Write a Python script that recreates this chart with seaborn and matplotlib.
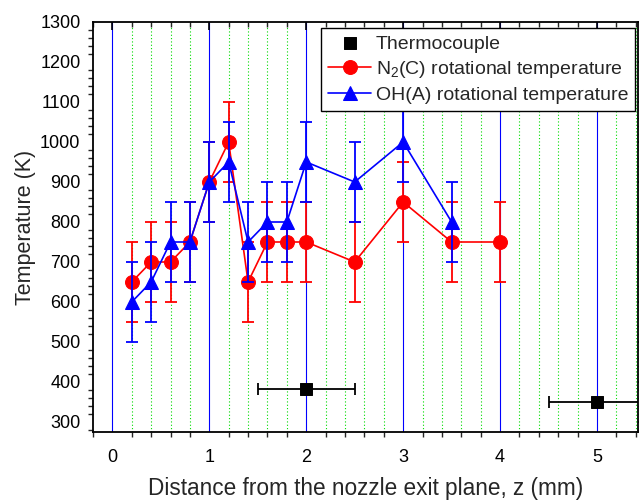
import numpy as np
import pandas as pd
import matplotlib
matplotlib.use("Agg")
import matplotlib.pyplot as plt
import seaborn as sns
from matplotlib.ticker import MultipleLocator

# Data
tc_z = [2.0, 5.0]
tc_T = [383, 350]
tc_zerr = [0.5, 0.5]

n2_z = [0.2, 0.4, 0.6, 0.8, 1.0, 1.2, 1.4, 1.6, 1.8, 2.0, 2.5, 3.0, 3.5, 4.0]
n2_T = [650, 700, 700, 750, 900, 1000, 650, 750, 750, 750, 700, 850, 750, 750]
n2_err = [100] * 14

oh_z = [0.2, 0.4, 0.6, 0.8, 1.0, 1.2, 1.4, 1.6, 1.8, 2.0, 2.5, 3.0, 3.5]
oh_T = [600, 650, 750, 750, 900, 950, 750, 800, 800, 950, 900, 1000, 800]
oh_err = [100] * 13

xticks = [0, 1, 2, 3, 4, 5]
yticks = list(range(300, 1301, 100))

sns.set_theme(style="white")
plt.rcParams['font.family'] = ['Liberation Sans', 'DejaVu Sans']
plt.rcParams['mathtext.fontset'] = 'custom'
plt.rcParams['mathtext.rm'] = 'Liberation Sans'
plt.rcParams['mathtext.it'] = 'Liberation Sans:italic'

fig = plt.figure(figsize=(6.39, 5.0), dpi=100)
ax = fig.add_axes([0.1455, 0.136, 0.998 - 0.1455, 0.956 - 0.136])

ax.set_xlim(-0.2, 5.42)
ax.set_ylim(275, 1300)

ax.xaxis.set_major_locator(MultipleLocator(1))
ax.xaxis.set_minor_locator(MultipleLocator(0.2))
ax.yaxis.set_major_locator(MultipleLocator(100))
ax.yaxis.set_minor_locator(MultipleLocator(20))
ax.grid(False)
for x in np.arange(0, 5.5, 0.2):
    if abs(x - round(x)) < 1e-6:
        ax.axvline(x, color='#0000ff', lw=0.8, zorder=0)
    else:
        ax.axvline(x, color='#00dd00', lw=0.8, ls=(0, (1, 2)), zorder=0)

df_n2 = pd.DataFrame({'z': n2_z, 'T': n2_T})
df_oh = pd.DataFrame({'z': oh_z, 'T': oh_T})
df_tc = pd.DataFrame({'z': tc_z, 'T': tc_T})

ax.errorbar(n2_z, n2_T, yerr=n2_err, fmt='none', ecolor='#ff0000', elinewidth=1.3,
            capsize=4, capthick=1.3, zorder=3)
ax.errorbar(oh_z, oh_T, yerr=oh_err, fmt='none', ecolor='#0000ff', elinewidth=1.3,
            capsize=4, capthick=1.3, zorder=4)
ax.errorbar(tc_z, tc_T, xerr=tc_zerr, fmt='none', ecolor='black', elinewidth=1.3,
            capsize=4, capthick=1.3, zorder=5)

sns.lineplot(data=df_n2, x='z', y='T', ax=ax, color='#ff0000', lw=1.2, marker='o',
             markersize=10, markeredgecolor='#ff0000', sort=False, zorder=3,
             label=r'N$_2$(C) rotational temperature')
sns.lineplot(data=df_oh, x='z', y='T', ax=ax, color='#0000ff', lw=1.2, marker='^',
             markersize=10, markeredgecolor='#0000ff', sort=False, zorder=4,
             label='OH(A) rotational temperature')
sns.scatterplot(data=df_tc, x='z', y='T', ax=ax, color='black', marker='s', s=75,
                edgecolor='black', zorder=6, label='Thermocouple')

ax.set_xticks(xticks)
ax.set_yticks(yticks)
ax.set_xlabel('Distance from the nozzle exit plane, z (mm)', fontsize=16.3, labelpad=8)
ax.set_ylabel('Temperature (K)', fontsize=15.5, labelpad=3)

for s in ax.spines.values():
    s.set_color('black')
    s.set_linewidth(1.3)

ax.tick_params(axis='both', which='major', labelsize=13, color='black', width=1.2,
               labelcolor='black')
ax.tick_params(axis='x', which='major', direction='out', length=6, top=True, pad=6)
ax.tick_params(axis='x', which='minor', direction='out', length=3.5, width=1.0, top=True, bottom=True)
ax.tick_params(axis='y', which='major', direction='out', length=6, right=True, pad=3)
ax.tick_params(axis='y', which='minor', direction='out', length=3.5, width=1.0, right=True, left=True)
for t in ax.xaxis.get_major_ticks() + ax.xaxis.get_minor_ticks():
    t.tick2line.set_marker(3)  # TICKDOWN
for t in ax.yaxis.get_major_ticks() + ax.yaxis.get_minor_ticks():
    t.tick2line.set_marker(1)  # TICKLEFT

handles, labels = ax.get_legend_handles_labels()
order = [labels.index('Thermocouple'), labels.index(r'N$_2$(C) rotational temperature'),
         labels.index('OH(A) rotational temperature')]
leg = ax.legend([handles[i] for i in order], [labels[i] for i in order],
                loc='upper right', bbox_to_anchor=(0.995, 0.985), fontsize=14,
                frameon=True, fancybox=False, edgecolor='black', framealpha=1,
                handlelength=2.25, handletextpad=0.22, borderpad=0.35, labelspacing=0.33,
                borderaxespad=0.0)
leg.get_frame().set_linewidth(1.0)

fig.savefig('out.png', dpi=100)
